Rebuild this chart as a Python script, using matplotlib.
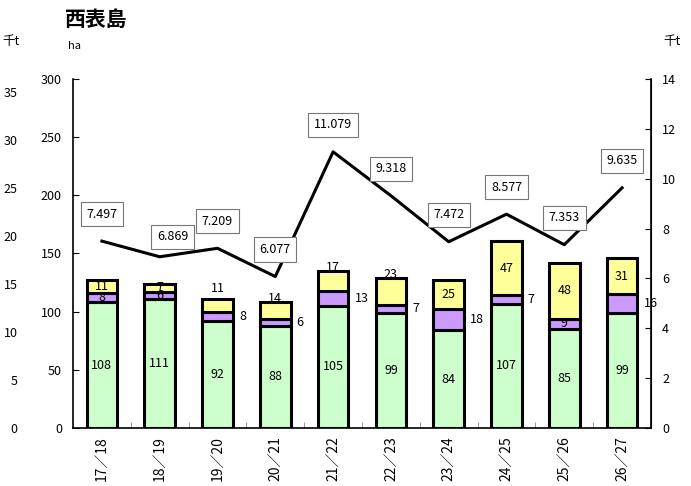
import matplotlib
matplotlib.use("Agg")
from matplotlib import pyplot as plt

plt.rcParams['font.family'] = ['Noto Sans CJK JP', 'DejaVu Sans']

# data
years = ["17／18", "18／19", "19／20", "20／21", "21／22",
         "22／23", "23／24", "24／25", "25／26", "26／27"]
green = [108, 111, 92, 88, 105, 99, 84, 107, 85, 99]
purple = [8, 6, 8, 6, 13, 7, 18, 7, 9, 16]
yellow = [11, 7, 11, 14, 17, 23, 25, 47, 48, 31]
tons = [7.497, 6.869, 7.209, 6.077, 11.079, 9.318, 7.472, 8.577, 7.353, 9.635]

# where the small labels sit
purple_pos = ['in', 'in', 'right', 'right', 'right', 'right', 'right', 'right', 'in', 'right']
yellow_pos = ['in', 'in', 'above', 'edge', 'edge', 'edge', 'in', 'in', 'in', 'in']

fig = plt.figure(figsize=(6.91, 4.86), dpi=100)
ax = fig.add_axes([73/691, 58/486, 578/691, 349/486])

x = list(range(len(years)))
w = 0.53
ec = dict(edgecolor='black', linewidth=2.2)
ax.bar(x, green, w, color='#CCFFCC', zorder=2, **ec)
ax.bar(x, purple, w, bottom=green, color='#CC99FF', zorder=2, **ec)
bot3 = [g + p for g, p in zip(green, purple)]
ax.bar(x, yellow, w, bottom=bot3, color='#FFFF99', zorder=2, **ec)

fs = 9
for i in x:
    ax.text(i, green[i] / 2, str(green[i]), ha='center', va='center', fontsize=fs, zorder=5)
    py = green[i] + purple[i] / 2
    if purple_pos[i] == 'in':
        ax.text(i, py, str(purple[i]), ha='center', va='center', fontsize=fs, zorder=5)
    else:
        ax.text(i + 0.37, py, str(purple[i]), ha='left', va='center', fontsize=fs, zorder=5)
    top = bot3[i] + yellow[i]
    if yellow_pos[i] == 'in':
        ax.text(i, bot3[i] + yellow[i] / 2, str(yellow[i]), ha='center', va='center', fontsize=fs, zorder=5)
    elif yellow_pos[i] == 'above':
        ax.text(i, top + 9, str(yellow[i]), ha='center', va='center', fontsize=fs, zorder=5)
    else:
        ax.text(i, top + 3, str(yellow[i]), ha='center', va='center', fontsize=fs, zorder=5)

ax.set_xlim(-0.5, len(years) - 0.5)
ax.set_ylim(0, 300)
ax.set_yticks(range(0, 301, 50))
ax.set_xticks(x)
ax.set_xticklabels(years, rotation=90, fontsize=10)
ax.set_xticks([i + 0.5 for i in x[:-1]], minor=True)
ax.tick_params(axis='x', which='major', length=0, pad=6)
ax.tick_params(axis='x', which='minor', direction='in', length=4, color='#888888')
ax.tick_params(axis='y', direction='in', length=4, labelsize=fs, pad=8)
ax.spines['top'].set_visible(False)
ax.spines['left'].set_linewidth(1.2)
ax.spines['bottom'].set_linewidth(1.2)

# line on right axis
ax2 = ax.twinx()
ax2.plot(x, tons, color='black', linewidth=2.2, zorder=4)
ax2.set_ylim(0, 14)
ax2.set_yticks(range(0, 15, 2))
ax2.tick_params(axis='y', direction='in', length=4, labelsize=fs, pad=8)
ax2.spines['top'].set_visible(False)
ax2.spines['right'].set_linewidth(1.2)
ax2.spines['left'].set_visible(False)
ax2.spines['bottom'].set_visible(False)

for i in x:
    off = (0, 27)
    if i == 1:
        off = (13, 20)
    ax2.annotate('%.3f' % tons[i], (i, tons[i]), xytext=(off[0] * 0.72, off[1] * 0.72),
                 textcoords='offset points', ha='center', va='center', fontsize=fs,
                 bbox=dict(boxstyle='square,pad=0.45', fc='white', ec='#777777', lw=0.8),
                 zorder=6)

# outer left scale in thousand tonnes
ax3 = ax.twinx()
ax3.set_ylim(0, 35 * 349 / 336)
ax3.set_yticks(range(0, 36, 5))
ax3.yaxis.tick_left()
ax3.spines['left'].set_position(('outward', 40))
for s in ax3.spines.values():
    s.set_visible(False)
ax3.tick_params(axis='y', length=0, labelsize=fs, pad=0)
ax3.tick_params(axis='y', labelright=False, labelleft=True)

fig.text(65/691, 1 - 19/486, "西表島", fontsize=15, fontweight='bold', va='center')
fig.text(68/691, 1 - 46/486, "ha", fontsize=8, va='center')
fig.text(2/691, 1 - 41/486, "千t", fontsize=9, va='center')
fig.text(663/691, 1 - 41/486, "千t", fontsize=9, va='center')

plt.savefig('out.png', dpi=100)
